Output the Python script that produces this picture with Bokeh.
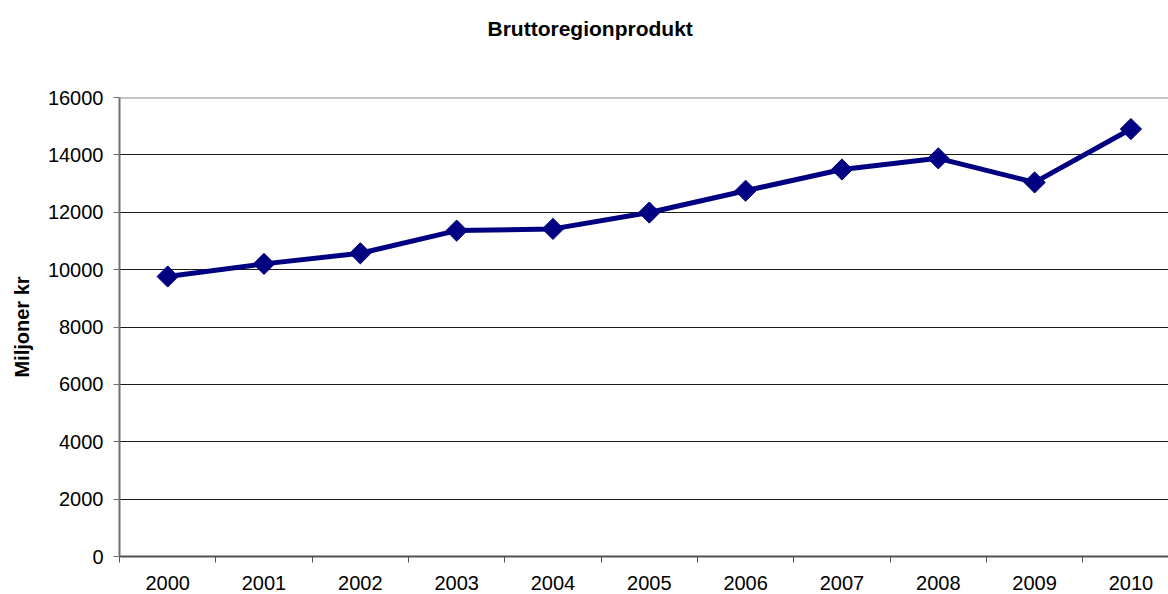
import math

from bokeh.embed import file_html
from bokeh.models import (ColumnDataSource, FixedTicker, NumeralTickFormatter,
                          Range1d, Span, Title)
from bokeh.plotting import figure
from bokeh.resources import INLINE

# Gross regional product, million kronor
years = ["2000", "2001", "2002", "2003", "2004", "2005",
         "2006", "2007", "2008", "2009", "2010"]
grp = [9760, 10200, 10570, 11360, 11420, 11990,
       12750, 13490, 13880, 13040, 14900]
y_ticks = [0, 2000, 4000, 6000, 8000, 10000, 12000, 14000, 16000]

FONT = "Liberation Sans"
NAVY = "#000080"

# each year occupies one unit slot; points sit in the slot centres
centres = [i + 0.5 for i in range(len(years))]
edges = [float(i) for i in range(len(years) + 1)]

src = ColumnDataSource(data=dict(x=centres, y=grp, year=years))

p = figure(width=1168, height=594,
           x_range=Range1d(0, 10.89), y_range=Range1d(0, 16000),
           output_backend="svg", toolbar_location=None,
           min_border_left=119, min_border_right=0,
           min_border_top=97, min_border_bottom=38)
p.outline_line_color = None
p.background_fill_color = "white"
p.border_fill_color = "white"

# the blank trailing lines leave empty space between title and frame
p.add_layout(Title(text="Bruttoregionprodukt\n \n ", align="left", offset=368,
                   vertical_align="top", standoff=20,
                   text_font=FONT, text_font_size="21px",
                   text_font_style="bold", text_color="black"), "above")

# y axis
p.yaxis.ticker = FixedTicker(ticks=y_ticks)
p.yaxis.formatter = NumeralTickFormatter(format="0")
p.yaxis.axis_label = "Miljoner kr"
p.yaxis.axis_label_text_font = FONT
p.yaxis.axis_label_text_font_size = "20px"
p.yaxis.axis_label_text_font_style = "bold"
p.yaxis.axis_label_text_color = "black"
p.yaxis.axis_label_standoff = 12
p.yaxis.major_label_text_font = FONT
p.yaxis.major_label_text_font_size = "20px"
p.yaxis.major_label_text_color = "black"
p.yaxis.major_label_standoff = 10
p.yaxis.axis_line_color = "#707070"
p.yaxis.axis_line_width = 2
p.yaxis.major_tick_line_color = "#707070"
p.yaxis.major_tick_out = 6
p.yaxis.major_tick_in = 0
p.yaxis.minor_tick_line_color = None

# x axis: labels at slot centres, tick marks on slot boundaries
p.xaxis.ticker = FixedTicker(ticks=centres, minor_ticks=edges)
p.xaxis.major_label_overrides = {c: y for c, y in zip(centres, years)}
p.xaxis.major_label_text_font = FONT
p.xaxis.major_label_text_font_size = "20px"
p.xaxis.major_label_text_color = "black"
p.xaxis.major_label_standoff = 13
p.xaxis.major_tick_line_color = None
p.xaxis.major_tick_out = 0
p.xaxis.major_tick_in = 0
p.xaxis.minor_tick_line_color = "#505050"
p.xaxis.minor_tick_out = 6
p.xaxis.minor_tick_in = 0
p.xaxis.axis_line_color = "#505050"
p.xaxis.axis_line_width = 2

# grid
p.xgrid.grid_line_color = None
p.ygrid.ticker = FixedTicker(ticks=y_ticks[1:-1])
p.ygrid.grid_line_color = "#1a1a1a"
p.ygrid.grid_line_width = 1
p.add_layout(Span(location=y_ticks[-1], dimension="width",
                  line_color="#8c8c8c", line_width=2))

# series
p.line("x", "y", source=src, line_color=NAVY, line_width=5)
p.scatter("x", "y", source=src, marker="square", angle=math.pi / 4,
          size=15, fill_color=NAVY, line_color=NAVY, line_width=1)

open("out.html", "w").write(file_html(p, INLINE))
